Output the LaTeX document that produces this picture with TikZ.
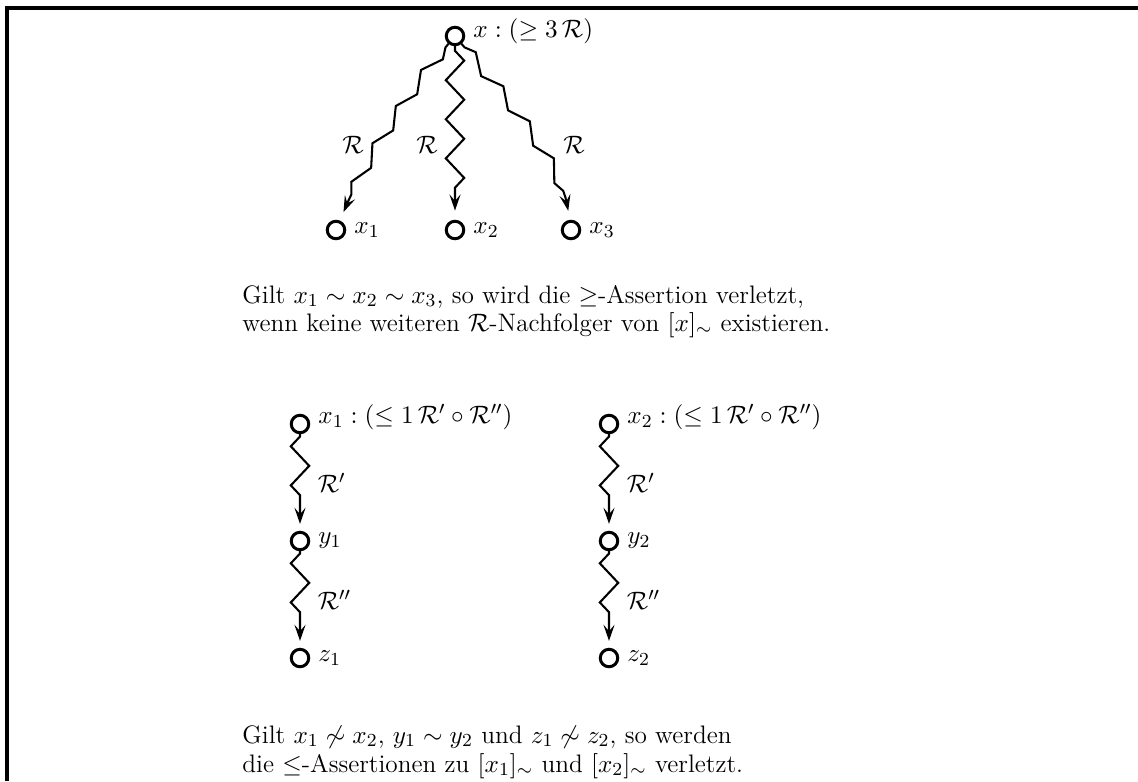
\documentclass[tikz,border=0pt]{standalone}
\usepackage{amsmath, amssymb}
\usepackage{tikz}
\usetikzlibrary{positioning, decorations.pathmorphing, arrows.meta}

\tikzset{
  obj/.style={draw, circle, line width=1.3pt, minimum size=7.6pt, inner sep=0pt},
  squig/.style={line width=0.9pt, -{Stealth[length=7pt, width=4.8pt, inset=2.8pt]},
    decorate, decoration={zigzag, segment length=17pt, amplitude=4pt,
    pre length=2pt, post length=11pt}},
  slope/.style={squig, decoration={zigzag, segment length=19pt, amplitude=2.4pt,
    pre length=2pt, post length=10pt}},
  chain/.style={squig, decoration={zigzag, mirror, segment length=17pt, amplitude=4pt,
    pre length=1pt, post length=12pt}},
  txt/.style={anchor=base west, inner xsep=0pt},
}

\begin{document}
\begin{tikzpicture}[x=0.4348pt, y=0.4348pt,
    every node/.style={font=\fontsize{11}{13}\selectfont}]
    \useasboundingbox (0,0) rectangle (1138,-781);
    % Frame
    \draw[line width=1.6pt] (7,-781) -- (7,-8) -- (1140,-8);

    % Upper tree
    \node[obj, label={[yshift=2pt]right:{$x : (\geq 3\,\mathcal{R})$}}] (x) at (455,-36) {};
    \node[obj, label=right:{$x_1$}] (x1) at (336,-230) {};
    \node[obj, label=right:{$x_2$}] (x2) at (455,-230) {};
    \node[obj, label=right:{$x_3$}] (x3) at (571,-230) {};

    \draw[slope, shorten >=4pt] (x) to[out=-130, in=68, out looseness=0.4, in looseness=1.0] (x1);
    \draw[squig, shorten >=4pt] (x) -- (x2);
    \draw[slope, shorten >=4pt] (x) to[out=-50, in=95, out looseness=1.4, in looseness=0.5] (x3);

    \node (r1) at (353,-145) {$\mathcal{R}$};
    \node (r2) at (427,-145) {$\mathcal{R}$};
    \node (r3) at (574,-145) {$\mathcal{R}$};

    \node[txt] (t1) at (242,-303) {Gilt $x_1 \sim x_2 \sim x_3$, so wird die $\geq$-Assertion verletzt,};
    \node[txt] (t2) at (242,-331) {wenn keine weiteren $\mathcal{R}$-Nachfolger von $[x]_\sim$ existieren.};

    % Lower chains
    \node[obj, label={[yshift=3pt]right:{$x_1 : (\leq 1\,\mathcal{R}' \circ \mathcal{R}'')$}}] (a1) at (300,-424) {};
    \node[obj, label=right:{$y_1$}] (b1) at (300,-541) {};
    \node[obj, label=right:{$z_1$}] (c1) at (300,-658) {};
    \node[obj, label={[yshift=3pt]right:{$x_2 : (\leq 1\,\mathcal{R}' \circ \mathcal{R}'')$}}] (a2) at (609,-424) {};
    \node[obj, label=right:{$y_2$}] (b2) at (609,-541) {};
    \node[obj, label=right:{$z_2$}] (c2) at (609,-658) {};

    \draw[chain, shorten >=3pt] (a1) -- node[right=4pt] (p1) {$\mathcal{R}'$} (b1);
    \draw[chain, shorten >=3pt] (b1) -- node[right=4pt] (q1) {$\mathcal{R}''$} (c1);
    \draw[chain, shorten >=3pt] (a2) -- node[right=4pt] (p2) {$\mathcal{R}'$} (b2);
    \draw[chain, shorten >=3pt] (b2) -- node[right=4pt] (q2) {$\mathcal{R}''$} (c2);

    \node[txt] (t3) at (242,-743) {Gilt $x_1 \not\sim x_2$, $y_1 \sim y_2$ und $z_1 \not\sim z_2$, so werden};
    \node[txt] (t4) at (242,-772) {die $\leq$-Assertionen zu $[x_1]_\sim$ und $[x_2]_\sim$ verletzt.};

\end{tikzpicture}
\end{document}
